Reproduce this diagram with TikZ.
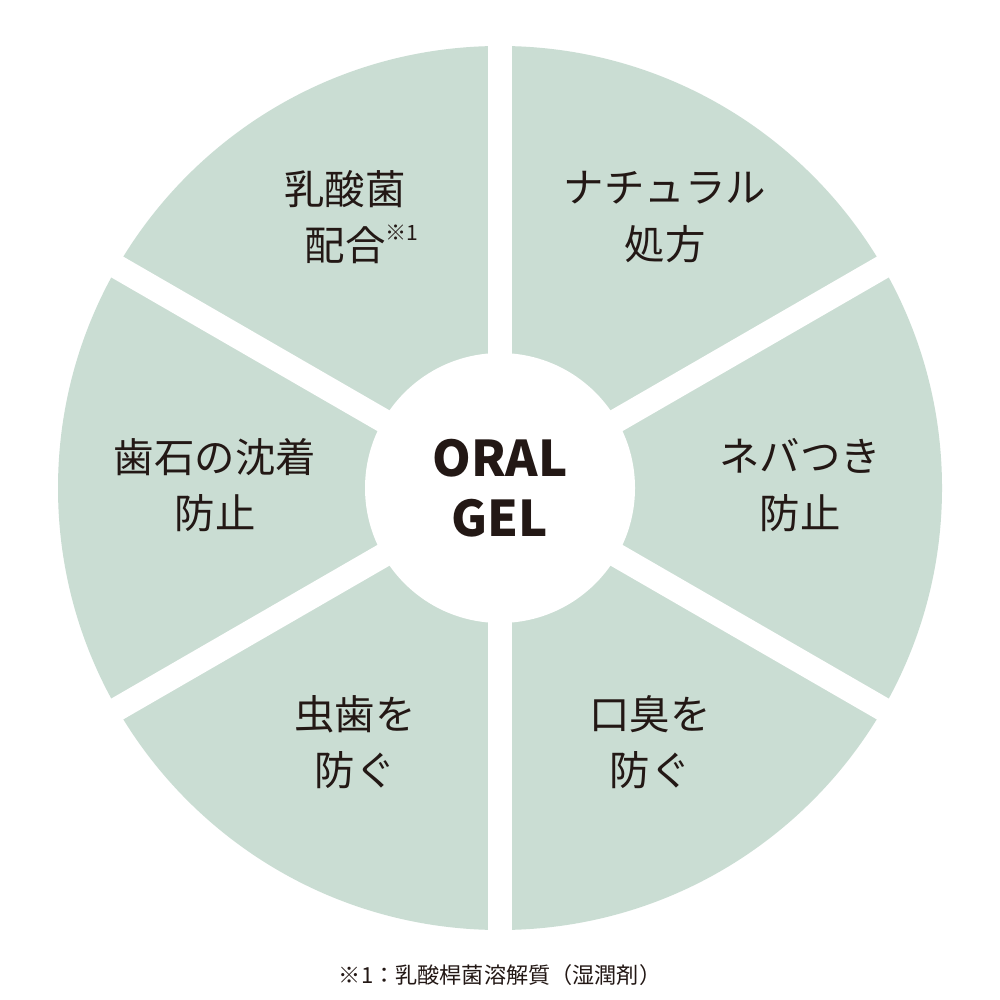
\documentclass[tikz,border=0pt]{standalone}
\usepackage{fontspec}
\usetikzlibrary{calc}
\setmainfont{Noto Sans CJK JP}
\definecolor{sage}{HTML}{CADDD3}
\definecolor{ink}{HTML}{231815}
\tikzset{lbl/.style={font=\fontsize{11.5pt}{16pt}\selectfont, text=ink, align=center},
  gap/.style={white, line width=0.24cm}}
\begin{document}
\begin{tikzpicture}[y=-1cm]
\useasboundingbox[fill=white] (0,0) rectangle (10,10);
\coordinate (c) at (5,4.88);
\fill[sage] (c) circle (4.42);
\foreach \a in {90,30,150}{
  \draw[gap] ($(c)+(\a:4.6)$) -- ($(c)+(\a+180:4.6)$);
}
\fill[white] (c) circle (1.35);
\node[lbl] (a) at (3.45,2.17) {乳酸菌\\配合\rlap{\raisebox{0.5em}{\fontsize{6pt}{6pt}\selectfont ※1}}};
\node[lbl] (b) at (6.65,2.17) {ナチュラル\\処方};
\node[lbl] (d) at (8.0,4.85) {ネバつき\\防止};
\node[lbl] (e) at (2.15,4.85) {歯石の沈着\\防止};
\node[lbl] (f) at (3.55,7.42) {虫歯を\\防ぐ};
\node[lbl] (g) at (6.5,7.42) {口臭を\\防ぐ};
\node[text=ink, align=center, font=\fontsize{14pt}{17pt}\selectfont\bfseries] (o) at (c) {ORAL\\GEL};
\node[text=ink, font=\fontsize{6.3pt}{8pt}\selectfont] (n) at (5,9.75) {※1：乳酸桿菌溶解質（湿潤剤）};
\end{tikzpicture}
\end{document}
